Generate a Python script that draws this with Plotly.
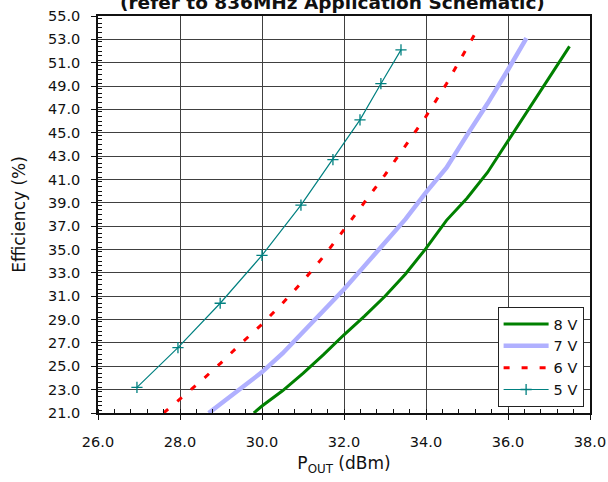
import plotly.graph_objects as go

# 8 V
x8 = [29.8, 30.0, 30.5, 31.0, 31.5, 32.0, 32.5, 33.0, 33.5, 34.0, 34.5, 35.0, 35.5, 36.0, 36.5, 37.0, 37.5]
y8 = [21.0, 21.6, 22.9, 24.4, 26.0, 27.7, 29.3, 31.0, 32.9, 35.1, 37.5, 39.4, 41.6, 44.3, 46.9, 49.7, 52.4]
# 7 V
x7 = [28.7, 29.0, 29.5, 30.0, 30.5, 31.0, 31.5, 32.0, 32.5, 33.0, 33.5, 34.0, 34.5, 35.0, 35.5, 36.0, 36.45]
y7 = [21.0, 21.8, 23.1, 24.5, 26.1, 27.9, 29.8, 31.6, 33.6, 35.6, 37.6, 39.9, 42.0, 44.8, 47.5, 50.4, 53.1]
# 6 V
x6 = [27.6, 28.0, 28.5, 29.0, 29.5, 30.0, 30.5, 31.0, 31.5, 32.0, 32.5, 33.0, 33.5, 34.0, 34.5, 35.0, 35.2]
y6 = [21.0, 22.2, 23.7, 25.3, 27.0, 28.6, 30.4, 32.3, 34.4, 36.7, 39.0, 41.4, 43.9, 46.4, 49.2, 52.2, 53.5]
# 5 V
x5 = [26.95, 27.95, 28.98, 30.0, 30.95, 31.73, 32.39, 32.9, 33.39]
y5 = [23.2, 26.6, 30.4, 34.5, 38.8, 42.7, 46.1, 49.2, 52.1]

title_text = "(refer to 836MHz Application Schematic)"
x_title = "P<sub>OUT</sub> (dBm)"
y_title = "Efficiency (%)"

FONT = "DejaVu Sans"

fig = go.Figure()
fig.add_trace(go.Scatter(x=x8, y=y8, mode="lines", name="8 V",
                         line=dict(color="#008000", width=3)))
fig.add_trace(go.Scatter(x=x7, y=y7, mode="lines", name="7 V",
                         line=dict(color="#b0b0ff", width=4.5)))
fig.add_trace(go.Scatter(x=x6, y=y6, mode="lines", name="6 V",
                         line=dict(color="#ff0000", width=3, dash="6px,12px")))
fig.add_trace(go.Scatter(x=x5, y=y5, mode="lines+markers", name="5 V",
                         line=dict(color="#008080", width=1.2),
                         marker=dict(symbol="cross-thin", size=8,
                                     line=dict(color="#008080", width=1.3))))

fig.update_layout(
    width=608, height=482,
    margin=dict(l=98, r=18, t=16, b=69, autoexpand=False),
    paper_bgcolor="white", plot_bgcolor="white",
    font=dict(family=FONT, color="#111111"),
    showlegend=True,
    legend=dict(x=0.987, y=0.015, xanchor="right", yanchor="bottom",
                bgcolor="white", bordercolor="#222222", borderwidth=1,
                font=dict(family=FONT, size=14.5, color="#111111"),
                itemwidth=45, tracegroupgap=0),
    annotations=[dict(text="<b>" + title_text + "</b>", xref="paper", yref="paper",
                      x=0.476, y=1.0, xanchor="center", yanchor="bottom", yshift=1,
                      showarrow=False, font=dict(family=FONT, size=18.5, color="#111111"))],
)

fig.update_xaxes(
    automargin=False,
    range=[26, 38], tick0=26, dtick=2, tickformat=".1f",
    showgrid=True, gridcolor="#404040", gridwidth=1,
    showline=True, linecolor="#111111", linewidth=1.5, mirror=True,
    ticks="outside", ticklen=5, tickcolor="#111111",
    ticklabelstandoff=10,
    minor=dict(dtick=0.4, ticks="inside", ticklen=4, tickcolor="#111111", showgrid=False),
    tickfont=dict(family=FONT, size=14.5, color="#111111"),
    title=dict(text=x_title, font=dict(family=FONT, size=17, color="#111111"), standoff=8),
    zeroline=False,
)
fig.update_yaxes(
    automargin=False,
    range=[21, 55], tick0=21, dtick=2, tickformat=".1f",
    showgrid=True, gridcolor="#404040", gridwidth=1,
    showline=True, linecolor="#111111", linewidth=1.5, mirror=True,
    ticks="outside", ticklen=5, tickcolor="#111111",
    ticklabelstandoff=8,
    minor=dict(dtick=0.4, ticks="inside", ticklen=4, tickcolor="#111111", showgrid=False),
    tickfont=dict(family=FONT, size=14.5, color="#111111"),
    title=dict(text=y_title, font=dict(family=FONT, size=17, color="#111111"), standoff=18),
    zeroline=False,
)

fig.write_html("out.html", config={"displayModeBar": False},
               post_script="document.body.style.margin='0';")
